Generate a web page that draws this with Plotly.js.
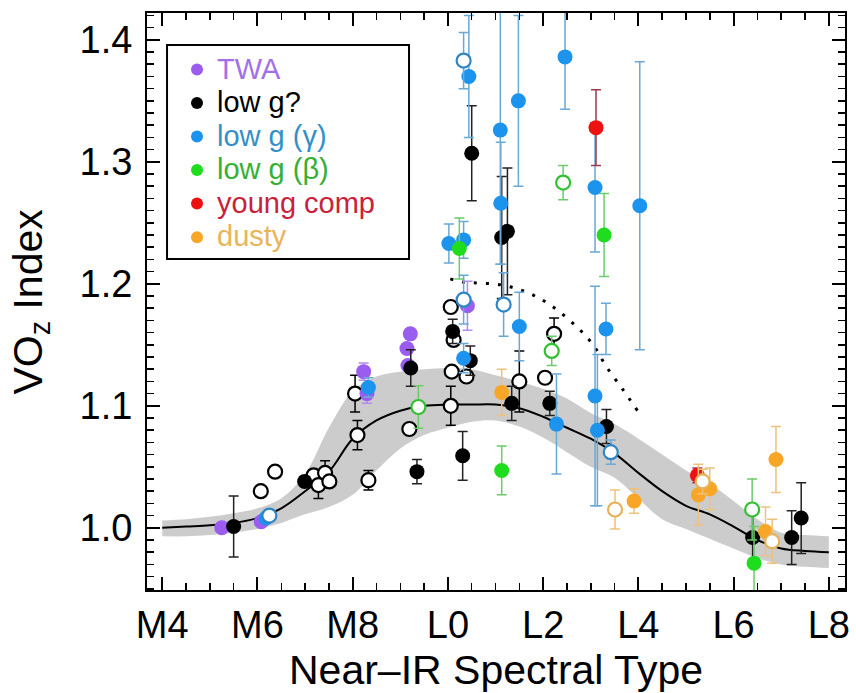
<!DOCTYPE html>
<html><head><meta charset="utf-8">
<script src="https://cdn.plot.ly/plotly-3.0.1.min.js"></script>
<style>body{margin:0;background:#fff}#plot{width:856px;height:693px}</style>
</head><body><div id="plot"></div>
<script>
// ---- axis ticks ----
const xTickVals = [4, 6, 8, 10, 12, 14, 16, 18];
const xTickText = ['M4', 'M6', 'M8', 'L0', 'L2', 'L4', 'L6', 'L8'];
const yTickVals = [1.0, 1.1, 1.2, 1.3, 1.4];
const yTickText = ['1.0', '1.1', '1.2', '1.3', '1.4'];

// ---- fit curve and rms band ----
const fitX = [4, 4.5, 5, 5.5, 6, 6.5, 7, 7.5, 8, 8.5, 9, 9.5, 10, 10.5, 11, 11.5, 12, 12.5, 13, 13.5, 14, 14.5, 15, 15.5, 16, 16.5, 17, 17.5, 18];
const fitY = [1.000, 1.001, 1.002, 1.004, 1.008, 1.016, 1.030, 1.046, 1.073, 1.088, 1.096, 1.100, 1.101, 1.101, 1.101, 1.098, 1.091, 1.082, 1.073, 1.061, 1.045, 1.030, 1.018, 1.011, 1.001, 0.990, 0.983, 0.981, 0.980];
const bandUpper = [1.006, 1.007, 1.009, 1.012, 1.016, 1.024, 1.044, 1.082, 1.112, 1.124, 1.128, 1.130, 1.131, 1.130, 1.125, 1.120, 1.114, 1.106, 1.094, 1.085, 1.073, 1.060, 1.047, 1.036, 1.022, 1.007, 0.996, 0.994, 0.993];
const bandLower = [0.993, 0.993, 0.994, 0.996, 0.999, 1.004, 1.011, 1.017, 1.027, 1.047, 1.065, 1.076, 1.082, 1.087, 1.088, 1.083, 1.074, 1.062, 1.050, 1.041, 1.024, 1.007, 0.999, 0.991, 0.983, 0.975, 0.970, 0.968, 0.967];

// ---- dotted curve ----
const dotX = [10.05, 10.33, 11.13, 11.72, 12.21, 12.70, 13.05, 13.33, 13.68, 14.0];
const dotY = [1.204, 1.2015, 1.199, 1.192, 1.181, 1.165, 1.150, 1.132, 1.113, 1.095];

// ---- field objects (open black) ----
const fieldX = [6.07, 6.37, 7.18, 7.28, 7.42, 7.51, 8.10, 8.05, 8.33, 9.19, 10.06, 10.12, 10.08, 10.39, 10.06, 11.50, 12.04, 12.23];
const fieldY = [1.030, 1.046, 1.043, 1.035, 1.045, 1.038, 1.076, 1.110, 1.039, 1.081, 1.181, 1.154, 1.128, 1.124, 1.100, 1.120, 1.123, 1.159];
const fieldErr = [0, 0, 0, 0.011, 0.010, 0, 0.012, 0.015, 0.008, 0, 0, 0, 0, 0, 0.016, 0.025, 0, 0.013];

// ---- TWA ----
const twaX = [5.25, 6.08, 8.23, 8.30, 9.21, 9.14, 9.16, 10.41];
const twaY = [1.000, 1.005, 1.128, 1.110, 1.159, 1.147, 1.133, 1.182];
const twaErr = [0, 0, 0.007, 0.008, 0, 0, 0, 0.02];

// ---- low g? (black filled) ----
const lowgX = [5.50, 6.99, 9.22, 9.35, 10.50, 11.13, 11.25, 10.10, 10.47, 10.31, 11.34, 12.14, 13.33, 16.40, 17.22, 17.42];
const lowgY = [1.001, 1.038, 1.131, 1.046, 1.307, 1.238, 1.243, 1.161, 1.137, 1.059, 1.102, 1.102, 1.083, 0.992, 0.992, 1.008];
const lowgErr = [0.025, 0.004, 0.015, 0.010, 0.039, 0.050, 0.052, 0.010, 0.012, 0.020, 0.014, 0.010, 0.014, 0.020, 0.022, 0.029];

// ---- low g (gamma) ----
const gamX = [6.18, 8.33, 10.44, 11.10, 11.48, 12.46, 13.09, 14.03, 11.11, 10.02, 10.33, 11.50, 13.32, 10.33, 12.28, 13.09, 13.14];
const gamY = [1.008, 1.115, 1.370, 1.326, 1.350, 1.386, 1.279, 1.264, 1.266, 1.233, 1.236, 1.165, 1.163, 1.139, 1.085, 1.108, 1.080];
const gamErr = [0, 0.008, 0.050, 0.110, 0.070, 0.043, 0.053, 0.118, 0.050, 0.016, 0.015, 0.028, 0.021, 0.012, 0.041, 0.090, 0.062];
const gamOpenX = [6.25, 10.33, 10.33, 11.17, 13.42];
const gamOpenY = [1.010, 1.383, 1.187, 1.183, 1.062];
const gamOpenErr = [0, 0.023, 0.020, 0.026, 0.010];

// ---- low g (beta) ----
const betX = [10.24, 13.28, 11.13, 16.43];
const betY = [1.229, 1.240, 1.047, 0.971];
const betErr = [0.025, 0.034, 0.020, 0.030];
const betOpenX = [9.38, 12.42, 12.18, 16.39];
const betOpenY = [1.099, 1.283, 1.145, 1.015];
const betOpenErr = [0.0175, 0.014, 0.012, 0.025];

// ---- young companions ----
const ycX = [13.11, 15.24];
const ycY = [1.328, 1.043];
const ycErr = [0.031, 0.006];

// ---- dusty ----
const dusX = [11.13, 13.91, 15.50, 15.26, 16.89, 16.67];
const dusY = [1.111, 1.022, 1.032, 1.027, 1.056, 0.997];
const dusErr = [0.019, 0.010, 0.017, 0.025, 0.027, 0.020];
const dusOpenX = [13.51, 15.35, 16.81];
const dusOpenY = [1.015, 1.038, 0.989];
const dusOpenErr = [0.016, 0.010, 0.018];

const C = {
  twa: '#9b5cf0', black: '#000000', gam: '#1c93ec', bet: '#1fdc1f', red: '#ee1111', dus: '#f7a628'
};
const FONT = 'Liberation Sans, Arial, Helvetica, sans-serif';
const MS = 15;

function filled(name, x, y, err, color, errColor, legend) {
  return {
    type: 'scatter', mode: 'markers', name: name, x: x, y: y, showlegend: legend,
    marker: {color: color, size: MS, line: {width: 0}},
    error_y: {type: 'data', array: err, visible: true, color: errColor, thickness: 1.5, width: 5}
  };
}
function open(x, y, err, color, errColor) {
  return {
    type: 'scatter', mode: 'markers', x: x, y: y, showlegend: false,
    marker: {color: '#ffffff', size: MS - 1, line: {width: 2.2, color: color}},
    error_y: {type: 'data', array: err, visible: true, color: errColor, thickness: 1.5, width: 5}
  };
}
function lname(t, col) {
  return '<span style="font-size:29px;color:' + col + '">' + t + '</span>';
}

const traces = [
  {type: 'scatter', mode: 'lines', x: fitX, y: bandLower, line: {width: 0, color: '#cccccc', shape: 'spline'}, showlegend: false, hoverinfo: 'skip'},
  {type: 'scatter', mode: 'lines', x: fitX, y: bandUpper, fill: 'tonexty', fillcolor: '#cccccc', line: {width: 0, color: '#cccccc', shape: 'spline'}, showlegend: false, hoverinfo: 'skip'},
  {type: 'scatter', mode: 'lines', x: fitX, y: fitY, line: {width: 2, color: '#000', shape: 'spline'}, showlegend: false},
  {type: 'scatter', mode: 'lines', x: dotX, y: dotY, line: {width: 3, color: '#000', dash: '3px,9px', shape: 'spline'}, showlegend: false},
  open(fieldX, fieldY, fieldErr, '#000', '#000'),
  filled(lname('TWA', '#a271e8'), twaX, twaY, twaErr, C.twa, '#b38cf0', true),
  filled(lname('low g?', '#000'), lowgX, lowgY, lowgErr, C.black, '#222', true),
  filled(lname('low g (γ)', '#3390c8'), gamX, gamY, gamErr, C.gam, '#6aa8d6', true),
  filled(lname('low g (β)', '#35b035'), betX, betY, betErr, C.bet, '#6acc6a', true),
  filled(lname('young comp', '#c9213a'), ycX, ycY, ycErr, C.red, '#9a3a4a', true),
  filled(lname('dusty', '#e8b55a'), dusX, dusY, dusErr, C.dus, '#eec27a', true),
  open(gamOpenX, gamOpenY, gamOpenErr, '#2f86c6', '#6aa8d6'),
  open(betOpenX, betOpenY, betOpenErr, '#33c033', '#6acc6a'),
  open(dusOpenX, dusOpenY, dusOpenErr, '#e7b25a', '#eec27a')
];

const axisCommon = {
  showline: true, linewidth: 2, linecolor: '#000', mirror: 'ticks',
  ticks: 'inside', ticklen: 13, tickwidth: 2, tickcolor: '#000',
  showgrid: false, zeroline: false, tickmode: 'array',
  tickfont: {family: FONT, size: 38, color: '#000'}
};

const layout = {
  width: 856, height: 693,
  margin: {l: 147, r: 11, t: 13, b: 103},
  paper_bgcolor: '#fff', plot_bgcolor: '#fff',
  font: {family: FONT, color: '#000'},
  showlegend: true,
  legend: {
    x: 0.043, y: 0.94, xanchor: 'left', yanchor: 'top', traceorder: 'normal',
    bgcolor: 'rgba(0,0,0,0)', borderwidth: 0,
    font: {family: FONT, size: 23.5, color: '#000'},
    itemsizing: 'constant', tracegroupgap: 0
  },
  xaxis: Object.assign({}, axisCommon, {
    range: [3.68, 18.34], tickvals: xTickVals, ticktext: xTickText,
    minor: {tickmode: 'linear', tick0: 0, dtick: 0.5, ticks: 'inside', ticklen: 7, tickwidth: 1.5, tickcolor: '#000'},
    title: {text: 'Near\u2013IR Spectral Type', font: {family: FONT, size: 41, color: '#000'}, standoff: 13}
  }),
  yaxis: Object.assign({}, axisCommon, {
    range: [0.949, 1.422], tickvals: yTickVals, ticktext: yTickText, ticklabelstandoff: 5,
    minor: {tickmode: 'linear', tick0: 0, dtick: 0.01, ticks: 'inside', ticklen: 7, tickwidth: 1.5, tickcolor: '#000'}
  }),
  annotations: [
    {text: 'VO<sub>z</sub> Index', textangle: -90, xref: 'paper', yref: 'paper', x: -0.1676, y: 0.5,
     xanchor: 'center', yanchor: 'middle', showarrow: false, font: {family: FONT, size: 41, color: '#000'}}
  ],
  shapes: [
    {type: 'rect', xref: 'paper', yref: 'paper', x0: 0.0287, x1: 0.3754, y0: 0.5737, y1: 0.9445,
     line: {color: '#000', width: 2}, fillcolor: 'rgba(0,0,0,0)', layer: 'above'}
  ]
};

Plotly.newPlot('plot', traces, layout, {staticPlot: true, displayModeBar: false});
</script>
</body></html>
